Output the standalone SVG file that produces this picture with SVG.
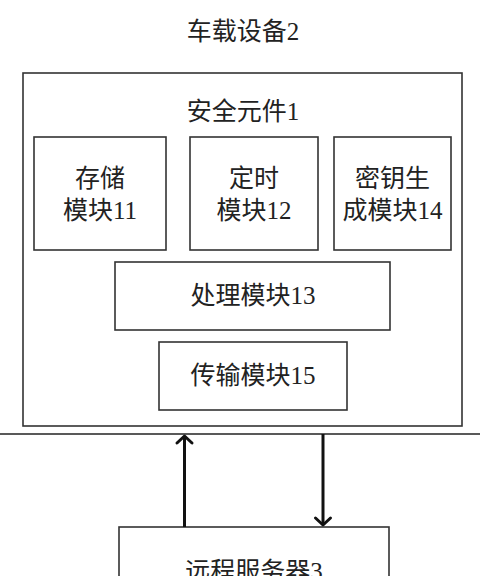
<svg xmlns="http://www.w3.org/2000/svg" width="480" height="576" viewBox="0 0 480 576">
<defs>
<style>
.box{fill:#fff;stroke:#333;stroke-width:1.6}
.t{font-family:"Liberation Serif","Noto Sans CJK SC",serif;font-size:25px;fill:#222;text-anchor:middle}
.conn{stroke:#111;stroke-width:3;fill:none}
.head{stroke:#111;stroke-width:3;fill:none;stroke-linecap:round;stroke-linejoin:round}
</style>
</defs>
<rect width="480" height="576" fill="#fff"/>
<text class="t" x="243" y="40">车载设备2</text>
<g id="outer">
<rect class="box" x="23" y="73" width="439" height="353"/>
<text class="t" x="243" y="120">安全元件1</text>
</g>
<g id="n11">
<rect class="box" x="34" y="137" width="132" height="113"/>
<text class="t" x="100" y="187">存储</text>
<text class="t" x="100" y="219">模块11</text>
</g>
<g id="n12">
<rect class="box" x="190" y="137" width="128" height="113"/>
<text class="t" x="254" y="187">定时</text>
<text class="t" x="254" y="219">模块12</text>
</g>
<g id="n14">
<rect class="box" x="334" y="137" width="117" height="113"/>
<text class="t" x="392.5" y="187">密钥生</text>
<text class="t" x="392.5" y="219">成模块14</text>
</g>
<g id="n13">
<rect class="box" x="115" y="262" width="275" height="68"/>
<text class="t" x="253" y="304">处理模块13</text>
</g>
<g id="n15">
<rect class="box" x="159" y="342" width="188" height="68"/>
<text class="t" x="253" y="384">传输模块15</text>
</g>
<g id="server">
<rect class="box" x="119" y="527" width="270" height="70"/>
<text class="t" x="254" y="580">远程服务器3</text>
</g>
<g id="connectors">
<line x1="0" y1="434" x2="480" y2="434" stroke="#222" stroke-width="1.6"/>
<line class="conn" x1="184.5" y1="527" x2="184.5" y2="436"/>
<polyline class="head" points="177,443 184.5,436 192,443"/>
<line class="conn" x1="323" y1="434" x2="323" y2="525"/>
<polyline class="head" points="315.5,518 323,525 330.5,518"/>
</g>
</svg>
